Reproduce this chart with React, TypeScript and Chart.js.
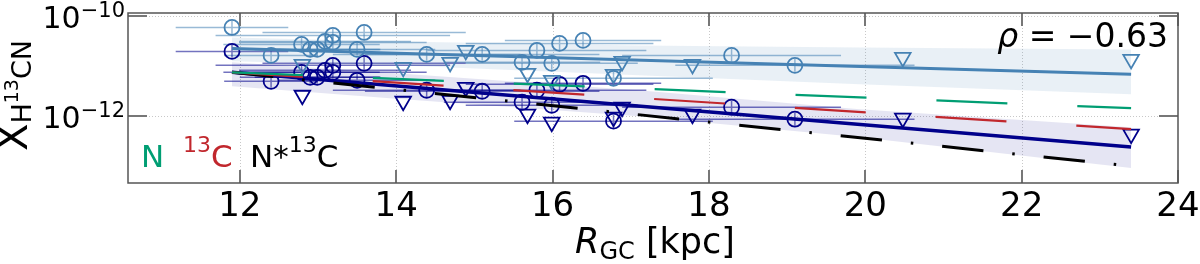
import React, { useEffect, useRef } from "react";
import { Chart, registerables } from "chart.js";

Chart.register(...registerables);

// ---------- axes ----------
const X_MIN = 10.57;
const X_MAX = 24;
const Y_MIN_EXP = -13.34;
const Y_MAX_EXP = -9.93;
const X_TICKS = [12, 14, 16, 18, 20, 22, 24];
const Y_TICK_EXP = [-12, -10];

// ---------- sources (R_GC in kpc, log10 abundances) ----------
const R_GC = [11.9, 12.4, 12.8, 12.79, 12.9, 12.99, 13.09, 13.19, 13.19, 13.5, 13.59, 14.09, 14.39, 14.69, 14.89, 15.1, 15.61, 15.68, 15.8, 15.99, 15.99, 16.09, 16.39, 16.78, 16.78, 16.89, 17.79, 18.29, 19.1, 20.48, 23.4];
const LOG_X_OBS = [-10.22, -10.78, -10.96, -10.56, -10.66, -10.66, -10.5, -10.38, -10.52, -10.66, -10.32, -11.02, -10.76, -10.92, -10.68, -10.76, -10.92, -11.14, -10.68, -10.94, -11.28, -10.54, -10.48, -11.16, -11.24, -10.9, -10.96, -10.78, -10.98, -10.82, -10.86];
const LOG_X_CORR = [-10.7, -11.3, -11.58, -11.12, -11.22, -11.22, -11.08, -10.98, -11.12, -11.28, -10.94, -11.7, -11.48, -11.68, -11.42, -11.5, -11.72, -11.96, -11.48, -11.78, -12.12, -11.36, -11.34, -12.02, -12.1, -11.82, -11.96, -11.82, -12.06, -12.04, -12.36];
const UPPER_LIMIT = [false, false, true, false, false, false, false, false, false, false, false, true, false, true, true, false, false, true, false, false, true, false, false, true, false, true, true, false, false, true, true];
const R_ERR = [0.72, 0.6, 0, 1.0, 0.9, 0.8, 1.1, 1.5, 1.2, 1.0, 1.3, 0, 1.2, 0, 0, 1.5, 1.0, 0, 1.4, 1.1, 0, 1.2, 1.0, 0, 1.27, 0, 0, 1.4, 1.53, 0, 0];
const LOG_ERR = [0.13];

// ---------- fits and bands ----------
const FIT_R = [11.9, 23.4];
const FIT_OBS = [-10.64, -11.16];
const FIT_CORR = [-11.12, -12.62];
const BAND_R = [11.9, 14.0, 17.1, 19.93, 23.4];
const BAND_OBS_HI = [-10.42, -10.5, -10.58, -10.62, -10.66];
const BAND_OBS_LO = [-10.9, -10.98, -11.18, -11.36, -11.56];
const BAND_CORR_HI = [-10.92, -11.14, -11.48, -11.86, -12.22];
const BAND_CORR_LO = [-11.4, -11.65, -12.0, -12.42, -13.04];

// ---------- model gradients ----------
const MODEL_R = [11.9, 23.4];
const MODEL_N = [-11.12, -11.84];
const MODEL_13C = [-11.12, -12.26];
const MODEL_N13C = [-11.12, -13.0];

const RHO_VALUE = "−0.63";

// ---------- colours ----------
const C_OBS = "#4682b4";
const C_CORR = "#00008b";
const C_GREEN = "#009e73";
const C_RED = "#c1272d";
const FONT = "'DejaVu Sans'";

const pts = (xs: number[], ys: number[]) => xs.map((x, i) => ({ x, y: Math.pow(10, ys[i]) }));
const sel = (want: boolean, ys: number[]) =>
  R_GC.map((x, i) => ({ x, y: Math.pow(10, ys[i]), l: UPPER_LIMIT[i] })).filter((p) => p.l === want).map((p) => ({ x: p.x, y: p.y }));

type Run = { t: string; size: number; italic?: boolean; dy?: number; color?: string };

function drawRuns(ctx: CanvasRenderingContext2D, x: number, y: number, runs: Run[], align: "left" | "right" | "center", color = "#000") {
  const font = (r: Run) => `${r.italic ? "italic " : ""}${r.size}px ${FONT}`;
  let total = 0;
  const widths = runs.map((r) => {
    ctx.font = font(r);
    const w = ctx.measureText(r.t).width;
    total += w;
    return w;
  });
  let cx = align === "left" ? x : align === "right" ? x - total : x - total / 2;
  ctx.textAlign = "left";
  ctx.textBaseline = "alphabetic";
  runs.forEach((r, i) => {
    ctx.font = font(r);
    ctx.fillStyle = r.color || color;
    ctx.fillText(r.t, cx, y + (r.dy || 0));
    cx += widths[i];
  });
}

const mplPlugin = {
  id: "mplStyle",
  beforeDatasetsDraw(chart: any) {
    const { ctx, chartArea: a } = chart;
    const xs = chart.scales.x;
    const ys = chart.scales.y;
    ctx.save();
    ctx.beginPath();
    ctx.rect(a.left, a.top, a.right - a.left, a.bottom - a.top);
    ctx.clip();
    // grid
    ctx.strokeStyle = "#c8c8c8";
    ctx.lineWidth = 1;
    ctx.setLineDash([1, 2]);
    X_TICKS.forEach((v) => {
      const px = Math.round(xs.getPixelForValue(v)) + 0.5;
      ctx.beginPath();
      ctx.moveTo(px, a.top);
      ctx.lineTo(px, a.bottom);
      ctx.stroke();
    });
    Y_TICK_EXP.forEach((e) => {
      const py = Math.round(ys.getPixelForValue(Math.pow(10, e))) + 0.5;
      ctx.beginPath();
      ctx.moveTo(a.left, py);
      ctx.lineTo(a.right, py);
      ctx.stroke();
    });
    ctx.setLineDash([]);
    // error bars
    const bars = (vals: number[], color: string) => {
      ctx.strokeStyle = color;
      ctx.lineWidth = 1.5;
      R_GC.forEach((r, i) => {
        if (UPPER_LIMIT[i]) return;
        const y = ys.getPixelForValue(Math.pow(10, vals[i]));
        const x = xs.getPixelForValue(r);
        ctx.beginPath();
        ctx.moveTo(xs.getPixelForValue(r - R_ERR[i]), y);
        ctx.lineTo(xs.getPixelForValue(r + R_ERR[i]), y);
        ctx.moveTo(x, ys.getPixelForValue(Math.pow(10, vals[i] + LOG_ERR[0])));
        ctx.lineTo(x, ys.getPixelForValue(Math.pow(10, vals[i] - LOG_ERR[0])));
        ctx.stroke();
      });
    };
    bars(LOG_X_OBS, "rgba(70,130,180,0.55)");
    bars(LOG_X_CORR, "rgba(0,0,139,0.55)");
    ctx.restore();
  },
  afterDraw(chart: any) {
    const { ctx, chartArea: a } = chart;
    const xs = chart.scales.x;
    const ys = chart.scales.y;
    ctx.save();
    // inward ticks
    ctx.strokeStyle = "#777";
    ctx.lineWidth = 2;
    X_TICKS.forEach((v) => {
      const px = Math.round(xs.getPixelForValue(v));
      ctx.beginPath();
      ctx.moveTo(px, a.bottom);
      ctx.lineTo(px, a.bottom - 13);
      ctx.moveTo(px, a.top);
      ctx.lineTo(px, a.top + 13);
      ctx.stroke();
    });
    Y_TICK_EXP.forEach((e) => {
      const py = Math.round(ys.getPixelForValue(Math.pow(10, e)));
      ctx.beginPath();
      ctx.moveTo(a.left, py);
      ctx.lineTo(a.left + 19, py);
      ctx.moveTo(a.right, py);
      ctx.lineTo(a.right - 19, py);
      ctx.stroke();
    });
    // frame
    ctx.strokeStyle = "#555";
    ctx.lineWidth = 1.5;
    ctx.strokeRect(a.left, a.top, a.right - a.left, a.bottom - a.top);

    // x tick labels
    ctx.fillStyle = "#000";
    ctx.font = `34px ${FONT}`;
    ctx.textAlign = "center";
    ctx.textBaseline = "alphabetic";
    X_TICKS.forEach((v) => {
      ctx.fillText(String(v), xs.getPixelForValue(v), a.bottom + 33);
    });
    // y tick labels 10^e
    Y_TICK_EXP.forEach((e) => {
      const py = ys.getPixelForValue(Math.pow(10, e));
      drawRuns(ctx, a.left - 3, py + 12, [
        { t: "10", size: 30 },
        { t: "−" + Math.abs(e), size: 21, dy: -11 },
      ], "right");
    });
    // x title
    drawRuns(ctx, (a.left + a.right) / 2 + 2, 253, [
      { t: "R", size: 35, italic: true },
      { t: "GC", size: 24, dy: 6 },
      { t: " [kpc]", size: 35 },
    ], "center");
    // y title (rotated, reading upwards from the bottom)
    ctx.save();
    ctx.translate(27, 151);
    ctx.rotate(-Math.PI / 2);
    drawRuns(ctx, 0, 0, [
      { t: "X", size: 40 },
      { t: "H", size: 27, dy: 4 },
      { t: "13", size: 19, dy: -9 },
      { t: "CN", size: 27, dy: 4 },
    ], "left");
    ctx.restore();
    // correlation
    drawRuns(ctx, a.right - 10, a.top + 34, [
      { t: "ρ", size: 33, italic: true },
      { t: " = ", size: 33 },
      { t: RHO_VALUE, size: 33 },
    ], "right");
    // model key
    const keyY = a.bottom - 16;
    drawRuns(ctx, a.left + 13, keyY, [{ t: "N", size: 31, color: C_GREEN }], "left");
    drawRuns(ctx, a.left + 55, keyY, [
      { t: "13", size: 22, dy: -15, color: C_RED },
      { t: "C", size: 31, color: C_RED },
    ], "left");
    drawRuns(ctx, a.left + 122, keyY, [
      { t: "N*", size: 31 },
      { t: "13", size: 22, dy: -15 },
      { t: "C", size: 31 },
    ], "left");
    ctx.restore();
  },
};

export default function App() {
  const ref = useRef<HTMLCanvasElement>(null);
  useEffect(() => {
    if (!ref.current) return;
    const bandStyle = (color: string, fill: any, order: number) => ({
      type: "line" as const,
      borderWidth: 0,
      pointRadius: 0,
      borderColor: color,
      backgroundColor: color,
      fill,
      order,
    });
    const marker = (data: any[], color: string, tri: boolean) => ({
      data,
      pointStyle: tri ? "triangle" : "circle",
      pointRotation: tri ? 180 : 0,
      pointRadius: tri ? 9 : 7.5,
      pointBorderWidth: 1.8,
      pointBorderColor: color,
      pointBackgroundColor: "rgba(0,0,0,0)",
      order: 10,
    });
    const chart = new Chart(ref.current, {
      type: "scatter",
      data: {
        datasets: [
          { ...bandStyle("rgba(70,130,180,0.12)", "+1", 20), data: pts(BAND_R, BAND_OBS_HI) },
          { ...bandStyle("rgba(70,130,180,0.12)", false, 20), data: pts(BAND_R, BAND_OBS_LO) },
          { ...bandStyle("rgba(0,0,139,0.1)", "+1", 20), data: pts(BAND_R, BAND_CORR_HI) },
          { ...bandStyle("rgba(0,0,139,0.1)", false, 20), data: pts(BAND_R, BAND_CORR_LO) },
          marker(sel(false, LOG_X_OBS), C_OBS, false),
          marker(sel(true, LOG_X_OBS), C_OBS, true),
          marker(sel(false, LOG_X_CORR), C_CORR, false),
          marker(sel(true, LOG_X_CORR), C_CORR, true),
          { type: "line", data: pts(FIT_R, FIT_OBS), borderColor: C_OBS, borderWidth: 3, pointRadius: 0, fill: false, order: 5 },
          { type: "line", data: pts(FIT_R, FIT_CORR), borderColor: C_CORR, borderWidth: 3.5, pointRadius: 0, fill: false, order: 5 },
          { type: "line", data: pts(MODEL_R, MODEL_N), borderColor: C_GREEN, borderWidth: 2.2, borderDash: [71, 70], pointRadius: 0, fill: false, order: 1 },
          { type: "line", data: pts(MODEL_R, MODEL_13C), borderColor: C_RED, borderWidth: 2.2, borderDash: [71, 70], pointRadius: 0, fill: false, order: 1 },
          { type: "line", data: pts(MODEL_R, MODEL_N13C), borderColor: "#000", borderWidth: 3, borderDash: [41.5, 29, 2.5, 29], pointRadius: 0, fill: false, order: 1 },
        ] as any,
      },
      options: {
        responsive: false,
        animation: false,
        devicePixelRatio: 1,
        events: [],
        layout: { padding: { left: 128, right: 22, top: 13, bottom: 81 } },
        plugins: { legend: { display: false }, tooltip: { enabled: false } },
        scales: {
          x: { type: "linear", min: X_MIN, max: X_MAX, display: false },
          y: { type: "logarithmic", min: Math.pow(10, Y_MIN_EXP), max: Math.pow(10, Y_MAX_EXP), display: false },
        },
      } as any,
      plugins: [mplPlugin],
    });
    return () => chart.destroy();
  }, []);
  return (
    <div style={{ position: "fixed", left: 0, top: 0, width: 1200, height: 264, background: "#fff" }}>
      <canvas ref={ref} width={1200} height={264} style={{ display: "block", width: 1200, height: 264 }} />
    </div>
  );
}
